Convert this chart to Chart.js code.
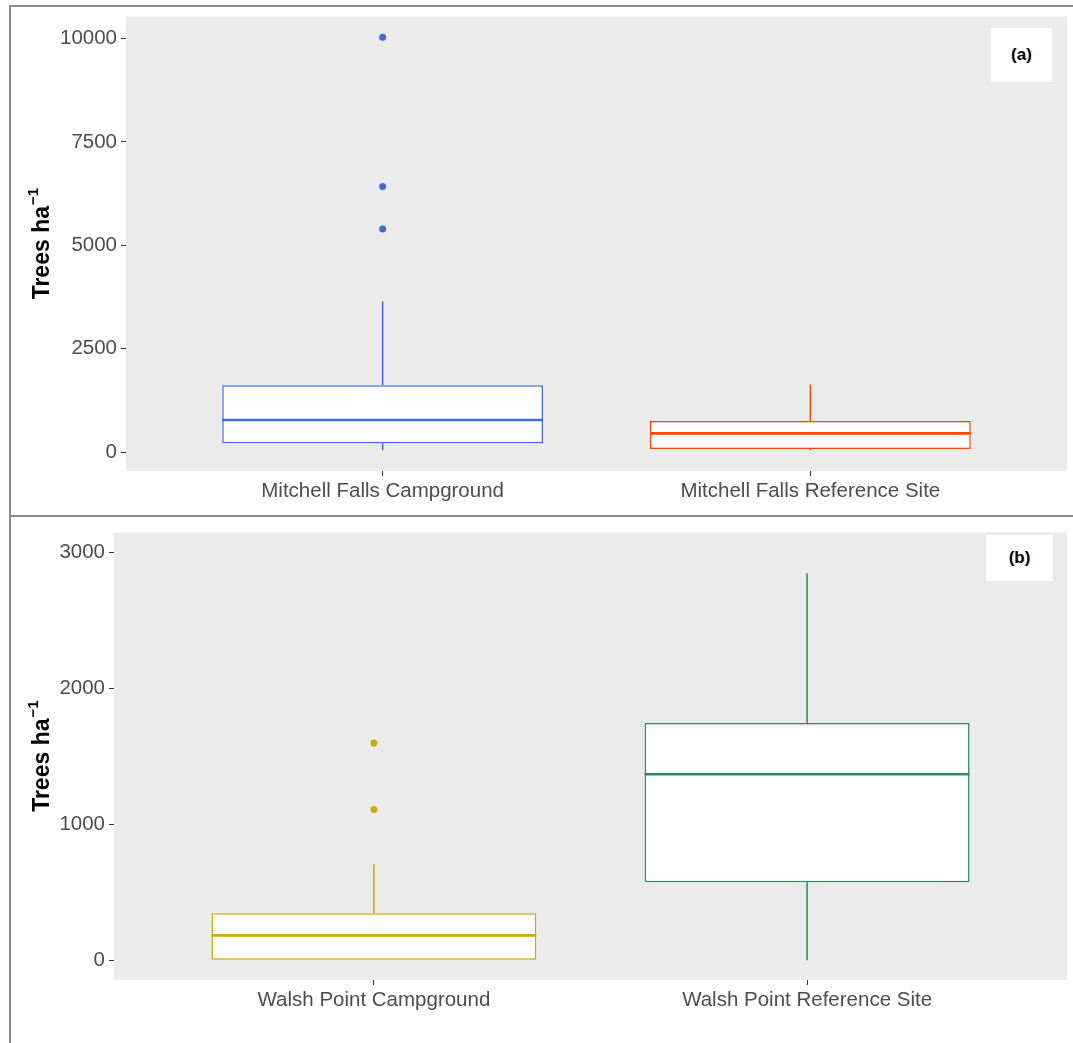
<!DOCTYPE html>
<html>
<head>
<meta charset="utf-8">
<title>Tree density by site</title>
<script src="https://cdn.jsdelivr.net/npm/chart.js@4.4.1/dist/chart.umd.min.js"></script>
<style>
  html, body { margin: 0; padding: 0; background: #ffffff; }
  #page { position: relative; width: 1073px; height: 1043px; overflow: hidden; background: #ffffff; }
  canvas { position: absolute; left: 0; }
  .rule { position: absolute; background: #8c8c8c; }
  .tag { position: absolute; background: #ffffff; color: #000000;
         font: bold 17px "Liberation Sans", Arial, sans-serif;
         display: flex; align-items: center; justify-content: center; }
</style>
</head>
<body>
<div id="page">
  <canvas id="panelA" width="1073" height="515" style="top:0"></canvas>
  <canvas id="panelB" width="1073" height="527" style="top:516px"></canvas>
  <div class="rule" style="left:9px;top:5px;width:1064px;height:2px"></div>
  <div class="rule" style="left:9px;top:5px;width:2px;height:1038px"></div>
  <div class="rule" style="left:9px;top:515px;width:1064px;height:2px"></div>
  <div class="tag" style="left:991px;top:28px;width:61px;height:54px">(a)</div>
  <div class="tag" style="left:986px;top:535px;width:67px;height:46px">(b)</div>
</div>
<script>
// Panel (a): Mitchell Falls
const mitchellSites = ['Mitchell Falls Campground', 'Mitchell Falls Reference Site'];
const mitchellLower = [45, 45];
const mitchellQ1 = [210, 72];
const mitchellMedian = [773, 452];
const mitchellQ3 = [1618, 749];
const mitchellUpper = [3647, 1635];
const mitchellOutliers = [[10030, 6425, 5394], []];
const mitchellTicks = [0, 2500, 5000, 7500, 10000];
const mitchellColors = ['#4169E1', '#FF4500'];

// Panel (b): Walsh Point
const walshSites = ['Walsh Point Campground', 'Walsh Point Reference Site'];
const walshLower = [0, 0];
const walshQ1 = [0, 573];
const walshMedian = [183, 1367];
const walshQ3 = [345, 1743];
const walshUpper = [706, 2844];
const walshOutliers = [[1596, 1108], []];
const walshTicks = [0, 1000, 2000, 3000];
const walshColors = ['#CFAA00', '#2E8B57'];

const BOX_WIDTH = 0.75;
const TICK_FONT = { family: '"Liberation Sans", Arial, sans-serif', size: 20.5 };

// Grey panel background behind the boxes
const panelBackground = {
  id: 'panelBackground',
  beforeDraw(chart) {
    const { ctx, chartArea: a } = chart;
    ctx.save();
    ctx.fillStyle = '#EBEBEB';
    ctx.fillRect(a.left, a.top, a.right - a.left, a.bottom - a.top);
    ctx.restore();
  }
};

// Y axis title "Trees ha" with superscript −1
const yTitle = {
  id: 'yTitle',
  afterDraw(chart) {
    const { ctx, chartArea: a } = chart;
    const cy = (a.top + a.bottom) / 2;
    const main = 'Trees ha';
    const sup = '\u22121';
    const mainFont = 'bold 23px "Liberation Sans", Arial, sans-serif';
    const supFont = 'bold 15px "Liberation Sans", Arial, sans-serif';
    ctx.save();
    ctx.font = mainFont;
    const w1 = ctx.measureText(main).width;
    ctx.font = supFont;
    const w2 = ctx.measureText(sup).width;
    const total = w1 + w2 + 1;
    ctx.translate(40, cy);
    ctx.rotate(-Math.PI / 2);
    ctx.fillStyle = '#000000';
    ctx.textBaseline = 'alphabetic';
    ctx.textAlign = 'left';
    ctx.font = mainFont;
    ctx.fillText(main, -total / 2, 9);
    ctx.font = supFont;
    ctx.fillText(sup, -total / 2 + w1 + 1, -2);
    ctx.restore();
  }
};

function makePanel(canvasId, opts) {
  const { sites, lower, q1, median, q3, upper, outliers, ticks, colors,
          yMin, yMax, axisWidth, axisHeight, top } = opts;
  const datasets = [];

  // Boxes (Q1 to Q3)
  datasets.push({
    type: 'bar',
    data: sites.map((s, i) => ({ x: i + 1, y: [q1[i], q3[i]] })),
    backgroundColor: '#FFFFFF',
    borderColor: colors,
    borderWidth: 1.5,
    borderSkipped: false,
    barPercentage: BOX_WIDTH,
    categoryPercentage: 1,
    order: 4
  });

  sites.forEach((s, i) => {
    // Whiskers
    datasets.push({
      type: 'line',
      data: [
        { x: i + 1, y: lower[i] }, { x: i + 1, y: q1[i] },
        { x: i + 1, y: null },
        { x: i + 1, y: q3[i] }, { x: i + 1, y: upper[i] }
      ],
      borderColor: colors[i],
      borderWidth: 1.5,
      pointRadius: 0,
      spanGaps: false,
      order: 3
    });
    // Median
    datasets.push({
      type: 'line',
      data: [
        { x: i + 1 - BOX_WIDTH / 2, y: median[i] },
        { x: i + 1 + BOX_WIDTH / 2, y: median[i] }
      ],
      borderColor: colors[i],
      borderWidth: 2.6,
      pointRadius: 0,
      order: 2
    });
    // Outliers
    if (outliers[i].length) {
      datasets.push({
        type: 'scatter',
        data: outliers[i].map(v => ({ x: i + 1, y: v })),
        backgroundColor: colors[i],
        borderColor: colors[i],
        pointRadius: 3.5,
        borderWidth: 0,
        order: 1
      });
    }
  });

  return new Chart(document.getElementById(canvasId), {
    type: 'bar',
    data: { datasets },
    plugins: [panelBackground, yTitle],
    options: {
      responsive: false,
      animation: false,
      devicePixelRatio: 1,
      layout: { padding: { top: top, right: 6, left: 0, bottom: 0 } },
      plugins: { legend: { display: false }, tooltip: { enabled: false } },
      scales: {
        x: {
          type: 'linear',
          offset: false,
          min: 0.4,
          max: sites.length + 0.6,
          afterBuildTicks: s => { s.ticks = sites.map((_, i) => ({ value: i + 1 })); },
          afterFit: s => { s.height = axisHeight; },
          border: { display: false },
          grid: { offset: false, drawOnChartArea: false, tickLength: 5, color: '#333333', lineWidth: 1 },
          ticks: {
            autoSkip: false, maxRotation: 0, padding: 3,
            color: '#4D4D4D', font: TICK_FONT,
            callback: (v, idx) => sites[idx]
          }
        },
        y: {
          type: 'linear',
          min: yMin,
          max: yMax,
          afterBuildTicks: s => { s.ticks = ticks.map(v => ({ value: v })); },
          afterFit: s => { s.width = axisWidth; },
          border: { display: false },
          grid: { drawOnChartArea: false, tickLength: 5, color: '#333333', lineWidth: 1 },
          ticks: {
            padding: 4, color: '#4D4D4D', font: TICK_FONT,
            callback: v => String(v)
          }
        }
      }
    }
  });
}

makePanel('panelA', {
  sites: mitchellSites, lower: mitchellLower, q1: mitchellQ1, median: mitchellMedian,
  q3: mitchellQ3, upper: mitchellUpper, outliers: mitchellOutliers, ticks: mitchellTicks,
  colors: mitchellColors, yMin: -459, yMax: 10539, axisWidth: 126, axisHeight: 44, top: 16
});

makePanel('panelB', {
  sites: walshSites, lower: walshLower, q1: walshQ1, median: walshMedian,
  q3: walshQ3, upper: walshUpper, outliers: walshOutliers, ticks: walshTicks,
  colors: walshColors, yMin: -145, yMax: 3145, axisWidth: 114, axisHeight: 63, top: 9
});
</script>
</body>
</html>
